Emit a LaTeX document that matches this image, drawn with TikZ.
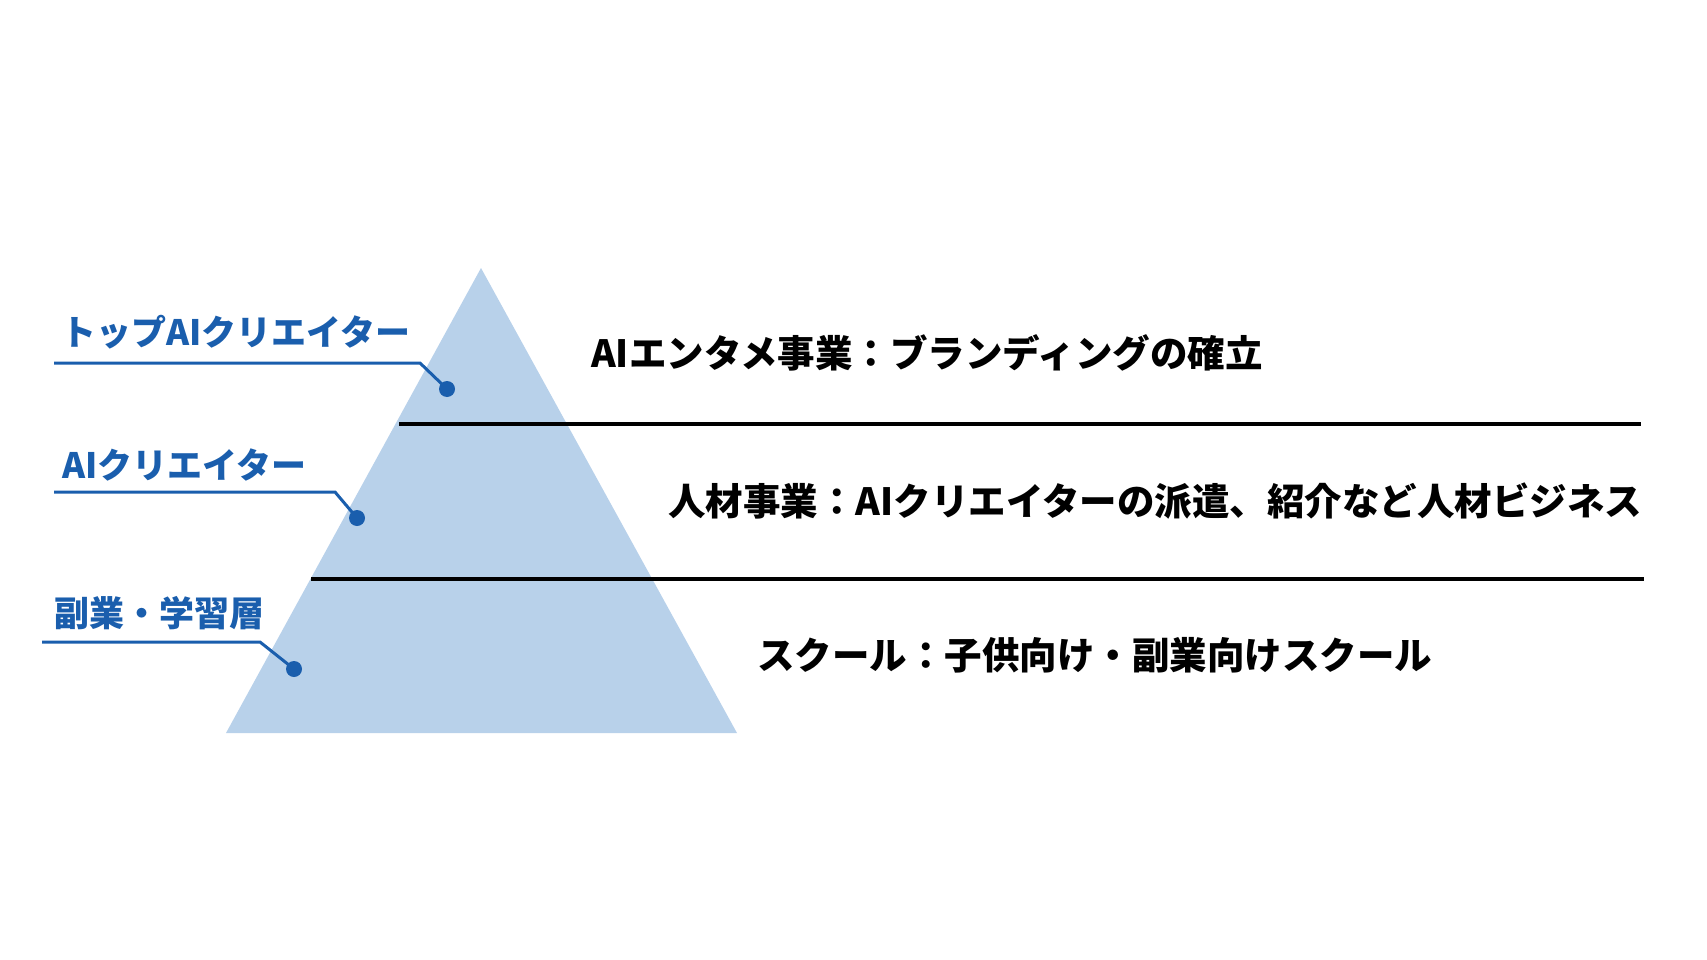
\documentclass[tikz,border=0pt]{standalone}
\usepackage{fontspec}
\setmainfont{Noto Sans CJK JP}
\definecolor{pyr}{HTML}{B8D1EA}
\definecolor{lblue}{HTML}{1A5EAD}
\begin{document}
\begin{tikzpicture}[x=1pt,y=-1pt,
  lab/.style={anchor=west,inner sep=0pt,text=lblue,font=\fontsize{35}{35}\selectfont\bfseries},
  desc/.style={anchor=west,inner sep=0pt,text=black,font=\fontsize{37.5}{37.5}\selectfont\bfseries},
  leader/.style={draw=lblue,line width=3pt},
  sep/.style={draw=black,line width=4pt},
  dotc/.style={circle,fill=lblue,minimum size=16pt,inner sep=0pt}]
\useasboundingbox (0,0) rectangle (1707,960);
\fill[pyr] (481,268) -- (737,733) -- (226,733) -- cycle;
% separators
\coordinate (s1a) at (399,424); \coordinate (s1b) at (1641,424);
\coordinate (s2a) at (311,579); \coordinate (s2b) at (1644,579);
\draw[sep] (s1a) -- (s1b);
\draw[sep] (s2a) -- (s2b);
% labels
\node[lab] (l1) at (61,332) {トップAIクリエイター};
\node[lab] (l2) at (62,465) {AIクリエイター};
\node[lab] (l3) at (54,613) {副業・学習層};
\node[dotc] (d1) at (447,389) {};
\node[dotc] (d2) at (357,518) {};
\node[dotc] (d3) at (294,669) {};
\coordinate (a1) at (54,363); \coordinate (b1) at (420,363);
\coordinate (a2) at (54,492); \coordinate (b2) at (335,492);
\coordinate (a3) at (42,642); \coordinate (b3) at (260,642);
\draw[leader] (a1) -- (b1) -- (d1.center);
\draw[leader] (a2) -- (b2) -- (d2.center);
\draw[leader] (a3) -- (b3) -- (d3.center);
% descriptions
\node[desc] (t1) at (591,353) {AIエンタメ事業：ブランディングの確立};
\node[desc] (t2) at (668,501) {人材事業：AIクリエイターの派遣、紹介など人材ビジネス};
\node[desc] (t3) at (757,655) {スクール：子供向け・副業向けスクール};
\end{tikzpicture}
\end{document}
